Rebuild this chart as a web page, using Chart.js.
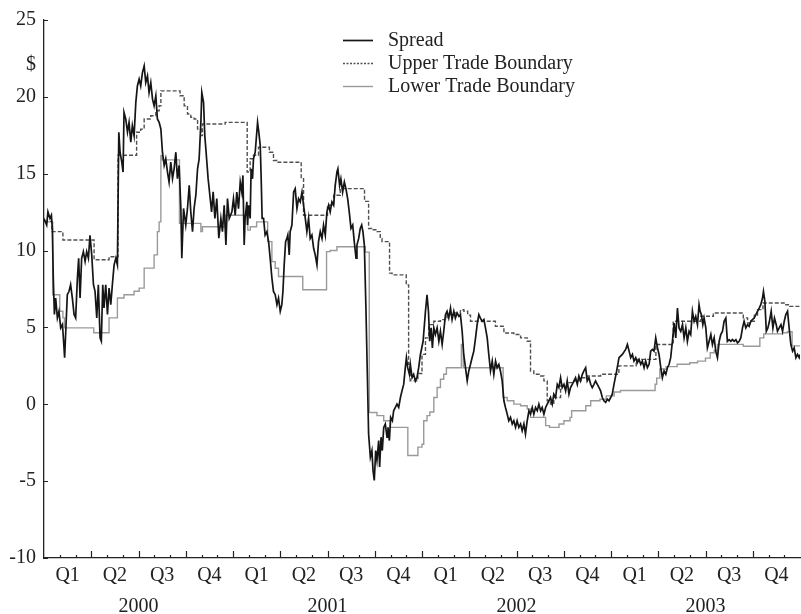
<!DOCTYPE html>
<html><head><meta charset="utf-8">
<script src="https://cdn.jsdelivr.net/npm/chart.js@4"></script>
<style>html,body{margin:0;padding:0;background:#fff;}canvas{display:block;}</style>
</head><body>
<canvas id="c" width="801" height="614"></canvas>
<script>
// x values are months since January 2000 (0 = start of 2000, 48 = end of 2003)
const quarterLabels = ['Q1', 'Q2', 'Q3', 'Q4'];
const yearLabels = ['2000', '2001', '2002', '2003'];
const yTickValues = [-10, -5, 0, 5, 10, 15, 20, 25];
const yUnitLabel = '$';
const seriesNames = ['Spread', 'Upper Trade Boundary', 'Lower Trade Boundary'];

const spreadPoints = [
[0,12.09],[0.17,11.66],[0.25,12.52],[0.38,12.09],[0.47,12.3],[0.53,11.44],[0.59,8.2],[0.66,5.84],[0.74,6.91],[0.85,5.62],[0.95,6.05],[1.06,4.97],[1.17,5.19],[1.23,4.33],[1.31,3.03],[1.40,5.19],[1.48,7.13],[1.59,7.35],[1.69,7.78],[1.80,6.91],[1.91,5.84],[2.01,5.62],[2.12,8.2],[2.20,9.5],[2.29,6.91],[2.39,9.5],[2.50,9.93],[2.61,9.29],[2.71,9.93],[2.82,9.5],[2.92,11.0],[3.03,9.72],[3.14,7.78],[3.24,7.35],[3.35,5.62],[3.45,7.78],[3.56,4.33],[3.64,4.11],[3.73,7.78],[3.81,6.27],[3.92,7.78],[4.03,5.84],[4.13,7.56],[4.24,6.48],[4.34,7.78],[4.45,9.07],[4.56,9.5],[4.66,9.07],[4.75,17.7],[4.83,16.4],[4.94,15.76],[5.02,15.11],[5.08,18.99],[5.19,18.56],[5.30,17.7],[5.40,18.34],[5.51,17.05],[5.61,18.13],[5.72,17.48],[5.83,19.64],[5.93,20.71],[6.04,21.15],[6.14,20.71],[6.25,21.58],[6.36,22.01],[6.46,20.93],[6.57,21.36],[6.67,20.28],[6.78,20.93],[6.89,19.85],[6.99,19.42],[7.10,20.07],[7.20,18.56],[7.31,18.34],[7.42,17.91],[7.52,16.4],[7.63,15.54],[7.73,15.97],[7.84,15.11],[7.94,14.46],[8.05,15.76],[8.16,14.68],[8.26,15.32],[8.37,16.4],[8.47,14.68],[8.58,15.54],[8.69,12.74],[8.75,9.5],[8.86,12.74],[9.00,11.66],[9.11,12.74],[9.22,14.25],[9.32,12.52],[9.43,11.23],[9.53,12.74],[9.64,13.6],[9.75,15.32],[9.85,15.97],[9.96,18.34],[10.02,20.28],[10.13,19.64],[10.21,17.48],[10.34,15.76],[10.42,14.68],[10.53,13.6],[10.64,12.52],[10.74,13.82],[10.85,12.09],[10.97,13.38],[11.10,10.8],[11.23,12.09],[11.33,11.23],[11.44,12.95],[11.55,10.36],[11.65,13.38],[11.76,12.09],
[11.93,12.52],[12.03,13.38],[12.14,12.3],[12.24,13.81],[12.35,12.73],[12.46,14.46],[12.56,13.81],[12.63,14.89],[12.71,10.36],[12.77,12.09],[12.88,13.17],[12.92,11.66],[12.99,12.95],[13.09,12.09],[13.15,15.32],[13.24,14.67],[13.30,15.97],[13.41,16.4],[13.51,17.69],[13.56,18.34],[13.64,17.69],[13.73,16.83],[13.79,14.67],[13.85,12.09],[13.94,12.09],[14.04,11.01],[14.15,11.23],[14.26,10.58],[14.36,9.5],[14.47,8.21],[14.57,7.34],[14.68,7.13],[14.79,6.48],[14.89,6.91],[15.0,6.05],[15.1,6.48],[15.17,7.34],[15.25,9.07],[15.34,10.58],[15.42,10.79],[15.48,11.01],[15.57,9.72],[15.63,11.23],[15.74,11.66],[15.85,13.81],[15.95,14.03],[16.06,12.73],[16.16,13.38],[16.27,13.17],[16.38,13.81],[16.48,12.95],[16.59,12.09],[16.69,11.23],[16.8,12.09],[16.9,10.79],[17.01,11.01],[17.12,10.15],[17.22,9.72],[17.33,9.07],[17.43,10.58],[17.54,11.23],[17.65,10.79],[17.75,11.66],[17.86,11.01],[17.96,12.52],[18.07,12.95],[18.17,12.52],[18.28,13.17],[18.39,12.95],[18.49,14.24],[18.6,15.11],[18.66,15.32],[18.77,14.24],[18.85,14.67],[18.96,13.81],[19.07,14.46],[19.17,14.03],[19.28,13.38],[19.38,12.52],[19.49,11.44],[19.6,11.66],[19.7,10.58],[19.81,9.5],[19.87,10.36],[19.98,10.79],[20.08,11.44],[20.17,11.66],[20.25,11.23],[20.34,10.36],[20.44,6.27],[20.53,1.95],[20.61,-1.93],[20.72,-3.44],[20.82,-3.01],[20.89,-4.3],[20.97,-4.95],[21.06,-3.01],[21.14,-3.65],[21.25,-2.36],[21.31,-4.08],[21.40,-2.14],[21.48,-3.01],[21.57,-1.5],[21.67,-1.28],[21.78,-2.14],[21.84,-1.5],[21.93,-2.36],[22.01,-0.85],[22.12,-1.07],[22.2,-0.42],[22.31,-0.2],[22.41,0.01],[22.52,-0.2],[22.63,0.44],[22.73,0.87],[22.84,1.31],[22.94,2.38],[23.01,3.03],[23.09,2.38],[23.2,1.95],[23.26,2.6],[23.37,1.74],[23.47,1.95],[23.58,1.52],[23.68,1.74],[23.79,2.38],
[23.9,3.24],[24.07,4.1],[24.22,6.05],[24.32,7.12],[24.41,6.05],[24.49,4.1],[24.58,4.97],[24.66,3.67],[24.75,4.97],[24.85,4.54],[24.96,4.97],[25.07,4.1],[25.17,4.75],[25.28,3.89],[25.38,4.75],[25.49,5.83],[25.59,6.05],[25.7,5.61],[25.81,6.26],[25.91,5.51],[26.02,6.05],[26.12,5.61],[26.23,5.94],[26.34,5.72],[26.44,5.83],[26.55,4.75],[26.65,3.24],[26.76,2.38],[26.87,1.52],[26.97,2.17],[27.08,2.6],[27.18,3.03],[27.29,3.46],[27.4,4.32],[27.5,5.18],[27.61,5.83],[27.71,5.61],[27.82,5.4],[27.93,5.51],[28.03,4.97],[28.14,4.32],[28.24,3.24],[28.35,2.17],[28.46,2.81],[28.56,1.95],[28.67,2.81],[28.77,2.38],[28.88,2.6],[28.98,2.17],[29.09,1.52],[29.2,0.23],[29.3,-0.21],[29.41,-0.64],[29.51,-1.07],[29.62,-0.85],[29.73,-1.28],[29.83,-1.07],[29.94,-1.5],[30.04,-1.07],[30.15,-1.5],[30.26,-1.28],[30.36,-1.72],[30.47,-1.28],[30.57,-1.93],[30.68,-1.07],[30.79,-0.42],[30.89,-0.64],[31.0,-0.21],[31.1,-0.64],[31.21,-0.21],[31.32,-0.42],[31.42,0.01],[31.53,-0.42],[31.63,-0.21],[31.74,-0.64],[31.85,-0.21],[31.95,0.01],[32.06,0.23],[32.16,0.44],[32.27,0.01],[32.37,0.66],[32.48,0.44],[32.59,1.3],[32.69,1.09],[32.8,1.73],[32.9,1.09],[33.01,1.3],[33.12,0.87],[33.22,1.52],[33.33,0.66],[33.43,1.09],[33.54,1.3],[33.65,1.52],[33.75,1.73],[33.86,1.3],[33.96,1.84],[34.07,1.52],[34.18,1.95],[34.28,2.17],[34.39,2.38],[34.49,1.52],[34.6,1.73],[34.71,1.3],[34.81,1.09],[34.92,1.3],[35.02,1.52],[35.13,1.3],[35.24,1.09],[35.34,0.87],[35.45,0.44],[35.55,0.23],[35.66,0.12],[35.77,0.33],[35.87,0.23],[35.98,0.44],[36.08,0.66],
[36.19,1.3],[36.36,2.17],[36.51,3.03],[36.72,3.24],[36.93,3.57],[37.04,3.89],[37.15,3.46],[37.25,3.03],[37.36,3.24],[37.46,2.81],[37.57,3.03],[37.67,2.7],[37.78,2.92],[37.89,2.6],[37.99,2.81],[38.1,2.38],[38.2,2.81],[38.31,2.38],[38.42,2.6],[38.52,3.46],[38.63,3.57],[38.73,3.46],[38.84,4.32],[38.95,3.67],[39.05,3.24],[39.16,2.38],[39.26,1.73],[39.37,2.17],[39.48,1.95],[39.58,2.38],[39.69,2.6],[39.79,3.03],[39.9,4.1],[40.01,5.29],[40.11,4.32],[40.22,6.26],[40.32,4.97],[40.43,4.75],[40.54,5.18],[40.64,4.32],[40.75,4.97],[40.85,4.1],[40.96,4.75],[41.06,4.54],[41.17,6.05],[41.28,5.4],[41.38,5.72],[41.49,5.18],[41.59,6.48],[41.66,6.05],[41.74,5.83],[41.83,5.18],[41.91,5.61],[42.02,4.97],[42.12,3.67],[42.23,4.1],[42.34,4.54],[42.44,3.89],[42.55,4.32],[42.65,3.46],[42.76,3.03],[42.87,4.1],[42.97,4.54],[43.08,4.75],[43.18,5.4],[43.29,5.61],[43.39,4.1],[43.5,4.21],[43.61,4.1],[43.71,4.21],[43.82,4.1],[43.93,4.21],[44.03,4.0],[44.14,4.1],[44.24,4.32],[44.35,4.97],[44.45,5.4],[44.56,4.97],[44.67,5.18],[44.77,5.07],[44.88,5.4],[44.98,5.51],[45.09,5.61],[45.2,5.83],[45.3,6.05],[45.41,6.26],[45.51,6.48],[45.62,6.91],[45.68,7.34],[45.77,6.69],[45.86,4.75],[45.96,4.97],[46.06,5.4],[46.17,6.05],[46.28,4.97],[46.38,5.61],[46.49,5.18],[46.57,4.75],[46.68,4.97],[46.79,5.18],[46.89,4.75],[47.0,5.4],[47.1,5.83],[47.21,6.05],[47.31,4.97],[47.42,3.89],[47.53,3.46],[47.63,3.67],[47.74,3.03],[47.84,3.24],[47.95,3.03],[48.0,3.24]
];

// step changes: [month where level starts, level]
const upperSteps = [
[0,11.9],[0.5,11.23],[1.2,10.69],[3.18,9.4],[4.13,9.6],[4.7,16.2],[5.88,17.7],[6.14,17.9],[6.36,18.56],[6.78,18.77],[7.1,19.1],[7.31,19.42],[7.42,20.39],[8.64,20.07],[8.9,19.42],[9.11,18.88],[9.32,18.67],[9.53,18.56],[9.75,17.91],[9.96,17.48],[10.06,18.23],[11.5,18.34],[12.9,15.11],[13.09,15.97],[13.3,16.2],[13.62,16.72],[14.31,16.4],[14.57,15.86],[14.79,15.75],[16.33,14.67],[16.48,12.3],[18.0,12.95],[18.39,13.6],[18.81,14.03],[20.35,13.2],[20.61,11.44],[20.8,11.35],[21.14,11.23],[21.35,10.79],[21.46,10.58],[21.94,8.53],[22.1,8.42],[23.0,7.77],[23.15,2.6],[23.25,1.52],[23.74,2.0],[24.0,3.25],[24.22,4.32],[24.43,5.18],[24.75,5.4],[25.17,5.51],[25.59,5.83],[26.02,5.94],[26.44,6.15],[26.66,6.05],[26.9,5.8],[27.08,5.4],[28.66,5.08],[29.2,4.64],[29.83,4.54],[30.26,4.32],[30.68,4.1],[30.89,2.17],[31.1,1.95],[31.53,1.84],[31.74,1.52],[31.95,0.23],[32.16,0.01],[32.37,0.44],[32.8,1.2],[33.22,1.41],[33.65,1.52],[34.07,1.73],[34.49,1.84],[35.34,1.95],[36.5,2.5],[37.6,2.92],[38.85,3.89],[39.95,5.4],[41.7,5.73],[42.5,5.94],[44.4,5.62],[44.67,5.29],[44.9,5.4],[45.1,5.8],[45.3,6.16],[45.65,6.59],[47.1,6.48],[47.35,6.37],[48,6.37]
];

const lowerSteps = [
[0,11.87],[0.55,7.13],[1.0,6.05],[1.2,5.62],[1.3,4.97],[3.16,4.65],[4.13,5.62],[4.66,6.91],[5.08,7.13],[5.72,7.35],[6.04,7.56],[6.36,8.86],[6.99,9.72],[7.2,11.23],[7.31,11.87],[7.42,16.19],[7.5,15.9],[8.6,11.77],[9.96,11.23],[10.06,11.55],[11.5,12.3],[12.94,11.33],[13.1,11.55],[13.5,11.87],[14.2,10.58],[14.47,9.28],[14.68,8.85],[14.89,8.31],[16.43,7.45],[17.94,9.93],[18.17,10.0],[18.6,10.25],[20.4,9.9],[20.65,-0.53],[21.14,-0.74],[21.57,-1.07],[21.99,-1.5],[23.1,-3.33],[23.74,-2.79],[24.0,-2.6],[24.11,-1.07],[24.32,-0.74],[24.5,-0.5],[24.75,0.44],[24.96,1.09],[25.17,1.63],[25.38,1.95],[25.55,2.38],[26.5,3.89],[26.62,2.38],[29.15,0.44],[29.41,0.23],[29.83,0.01],[30.26,-0.1],[30.68,-0.31],[30.89,-0.85],[31.85,-1.39],[32.1,-1.5],[32.7,-1.28],[33.01,-1.07],[33.4,-0.85],[33.5,-0.42],[34.4,-0.1],[34.71,0.23],[35.3,0.33],[35.7,0.55],[36.2,0.8],[36.6,0.9],[38.8,1.3],[38.9,1.7],[39.1,2.3],[39.5,2.45],[40.2,2.6],[41.0,2.7],[41.5,2.81],[42.0,3.0],[42.3,3.35],[42.55,3.5],[42.76,3.9],[44.4,3.78],[45.45,4.32],[45.7,4.58],[46.9,4.65],[47.2,4.72],[47.5,3.8],[48,3.8]
];

const toXY = arr => arr.map(p => ({x: p[0], y: p[1]}));
const FONT = "'Liberation Serif', 'Times New Roman', serif";
const INK = '#222';

const decorPlugin = {
  id: 'decor',
  afterDraw(chart) {
    const ctx = chart.ctx, a = chart.chartArea;
    const xs = chart.scales.x, ys = chart.scales.y;
    ctx.save();
    ctx.strokeStyle = INK;
    ctx.lineWidth = 1.2;
    ctx.beginPath();
    for (let m = 1; m < 48; m++) {
      const px = Math.round(xs.getPixelForValue(m)) + 0.5;
      const len = (m % 3 === 0) ? 7 : 3;
      ctx.moveTo(px, a.bottom);
      ctx.lineTo(px, a.bottom - len);
    }
    yTickValues.forEach(v => {
      const py = Math.round(ys.getPixelForValue(v)) + 0.5;
      ctx.moveTo(a.left, py);
      ctx.lineTo(a.left + 4, py);
    });
    ctx.stroke();

    // legend
    const rows = [40, 63, 86];
    ctx.font = '20px ' + FONT;
    ctx.textBaseline = 'middle';
    ctx.textAlign = 'left';
    chart.data.datasets.forEach((ds, i) => {
      const y = rows[i] + 0.5;
      ctx.beginPath();
      ctx.strokeStyle = ds.borderColor;
      ctx.lineWidth = ds.borderWidth;
      ctx.setLineDash(ds.borderDash ? [2, 1.5] : []);
      ctx.moveTo(343, y);
      ctx.lineTo(373, y);
      ctx.stroke();
      ctx.setLineDash([]);
      ctx.fillStyle = INK;
      ctx.fillText(ds.label, 388, rows[i] + 1);
    });
    ctx.restore();
  }
};

new Chart(document.getElementById('c'), {
  type: 'line',
  data: {
    datasets: [
      { label: seriesNames[0], data: toXY(spreadPoints), borderColor: '#151515', borderWidth: 1.7, pointRadius: 0, tension: 0 },
      { label: seriesNames[1], data: toXY(upperSteps), stepped: true, borderColor: '#505050', borderWidth: 1.4, borderDash: [4, 2], pointRadius: 0 },
      { label: seriesNames[2], data: toXY(lowerSteps), stepped: true, borderColor: '#9a9a9a', borderWidth: 1.4, pointRadius: 0 }
    ]
  },
  options: {
    responsive: false,
    devicePixelRatio: 1,
    animation: false,
    layout: { padding: { top: 17, right: 1, left: 0, bottom: 0 } },
    plugins: { legend: { display: false }, tooltip: { enabled: false } },
    scales: {
      x: {
        type: 'linear', min: 0, max: 48,
        grid: { display: false, drawTicks: false },
        border: { display: true, color: INK, width: 1.3 },
        afterBuildTicks: s => {
          const t = [];
          yearLabels.forEach((yr, yi) => {
            quarterLabels.forEach((q, qi) => t.push({ value: yi * 12 + qi * 3 + 1.5 }));
            t.push({ value: yi * 12 + 6 });
          });
          t.sort((p, q) => p.value - q.value);
          s.ticks = t;
        },
        afterFit: s => { s.height = 56; },
        ticks: {
          autoSkip: false, maxRotation: 0, padding: 2, color: INK,
          font: { family: FONT, size: 20, lineHeight: 1.55 },
          callback: v => {
            const yi = Math.floor(v / 12), r = v - yi * 12;
            if (r === 6) return ['', yearLabels[yi]];
            return quarterLabels[Math.floor(r / 3)];
          }
        }
      },
      y: {
        type: 'linear', min: -10, max: 25,
        grid: { display: false, drawTicks: false },
        border: { display: true, color: INK, width: 1.3 },
        afterBuildTicks: s => {
          s.ticks = yTickValues.map(v => ({ value: v })).concat([{ value: 22.1 }]);
        },
        afterFit: s => { s.width = 44; },
        ticks: {
          autoSkip: false, padding: 8, color: INK,
          font: { family: FONT, size: 20, lineHeight: 1.2 },
          callback: v => (v === 22.1 ? yUnitLabel : String(v))
        }
      }
    }
  },
  plugins: [decorPlugin]
});
</script>
</body></html>
